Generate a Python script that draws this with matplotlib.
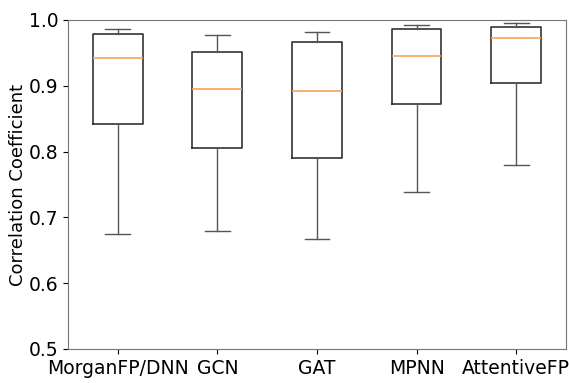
import matplotlib
matplotlib.use("Agg")
import matplotlib.pyplot as plt

# box statistics
models = ["MorganFP/DNN", "GCN", "GAT", "MPNN", "AttentiveFP"]
whislo = [0.675, 0.679, 0.667, 0.739, 0.780]
q1 = [0.842, 0.805, 0.791, 0.872, 0.904]
med = [0.942, 0.895, 0.892, 0.946, 0.973]
q3 = [0.978, 0.952, 0.966, 0.987, 0.990]
whishi = [0.987, 0.977, 0.982, 0.993, 0.995]


def main():
    stats = []
    for i in range(len(models)):
        stats.append({
            "label": models[i],
            "whislo": whislo[i],
            "q1": q1[i],
            "med": med[i],
            "q3": q3[i],
            "whishi": whishi[i],
            "fliers": [],
        })

    fig = plt.figure(figsize=(5.69, 3.83), dpi=100)
    ax = fig.add_axes([0.1195, 0.0888, 0.8752, 0.859])

    ax.bxp(stats, showfliers=False,
           boxprops=dict(color="#333333", linewidth=1.2),
           whiskerprops=dict(color="#555555", linewidth=1.0),
           capprops=dict(color="#555555", linewidth=1.0),
           medianprops=dict(color="#f5a35c", linewidth=1.2))

    ax.set_ylim(0.5, 1.0)
    ax.set_yticks([0.5, 0.6, 0.7, 0.8, 0.9, 1.0])
    ax.tick_params(labelsize=13.5, colors="black")
    for s in ax.spines.values():
        s.set_color("#777777")
    ax.set_ylabel("Correlation Coefficient", fontsize=13, labelpad=1)

    fig.savefig("out.png", dpi=100)


main()
